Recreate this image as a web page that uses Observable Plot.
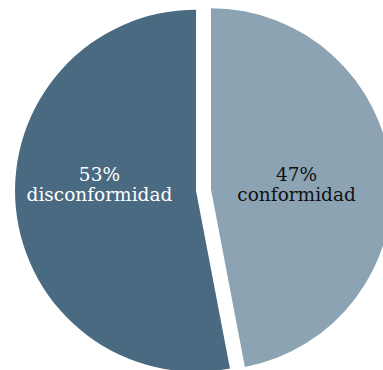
<!DOCTYPE html>
<html>
<head>
<meta charset="utf-8">
<script src="https://cdn.jsdelivr.net/npm/d3@7"></script>
<script src="https://cdn.jsdelivr.net/npm/@observablehq/plot@0.6"></script>
<style>
  html, body { margin: 0; padding: 0; background: #ffffff; overflow: hidden; }
  #chart svg { display: block; }
</style>
</head>
<body>
<div id="chart"></div>
<script>
// Data
const categories = ["conformidad", "disconformidad"];
const shares = [47, 53];
const sliceColors = ["#8ba3b3", "#4a6a82"];
const labelColors = ["#111111", "#ffffff"];

// Build pie geometry from the data (clockwise from 12 o'clock)
const data = categories.map((c, i) => ({category: c, value: shares[i]}));
const arcs = d3.pie().sort(null).value(d => d.value)(data);
const rows = arcs.map(a => ({
  category: a.data.category,
  value: a.data.value,
  start: a.startAngle,
  end: a.endAngle,
  mid: (a.startAngle + a.endAngle) / 2
}));

const explode = 7.5;      // px each slice is pulled out
const labelRadius = 0.547; // fraction of radius

const pieMark = Plot.dot(rows, {
  x: () => 0,
  y: () => 0,
  fill: "category",
  render(index, scales, values) {
    const cx = scales.x(0), cy = scales.y(0);
    const r = scales.x(1) - scales.x(0);
    const arc = d3.arc().innerRadius(0).outerRadius(r);
    const g = d3.create("svg:g");
    for (const i of index) {
      const d = rows[i];
      const dx = Math.sin(d.mid) * explode;
      const dy = -Math.cos(d.mid) * explode;
      g.append("path")
        .attr("d", arc({startAngle: d.start, endAngle: d.end}))
        .attr("transform", `translate(${cx + dx},${cy + dy})`)
        .attr("fill", values.fill[i]);
    }
    return g.node();
  }
});

const labelMarks = rows.map((d, i) => Plot.text([d], {
  x: r => Math.sin(r.mid) * labelRadius,
  y: () => 0,
  text: r => `${r.value}%\n${r.category}`,
  fill: labelColors[i],
  fontFamily: "DejaVu Serif",
  fontSize: 18.5,
  lineHeight: 1.08,
  dx: -6,
  dy: -6
}));

const chart = Plot.plot({
  width: 383,
  height: 370,
  margin: 0,
  x: {domain: [-1, 1], range: [22.5, 384.5], axis: null},
  y: {domain: [-1, 1], range: [371, 9], axis: null},
  color: {domain: categories, range: sliceColors},
  marks: [pieMark, ...labelMarks]
});
document.getElementById("chart").appendChild(chart);
</script>
</body>
</html>
